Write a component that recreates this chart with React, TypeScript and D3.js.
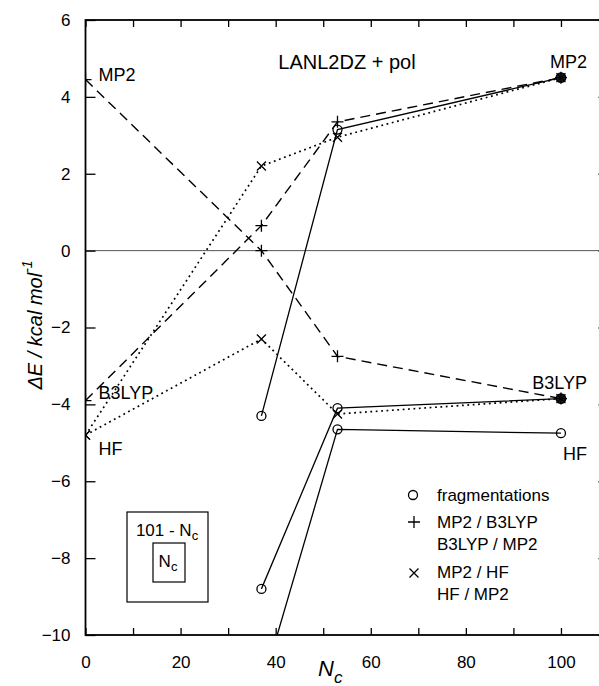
import React, { useEffect, useRef } from "react";
import * as d3 from "d3";

// N_c values and Delta E (kcal/mol)
// solid lines, open circles: fragmentations
const fragMp2 = [
  [37, -4.3],
  [53, 3.15],
  [100, 4.5],
];
const fragB3lyp = [
  [37, -8.8],
  [53, -4.1],
  [100, -3.85],
];
const fragHf = [
  [37, -11.4],
  [53, -4.65],
  [100, -4.75],
];
// dashed lines, plus markers
const mp2B3lyp = [
  [0, 4.45],
  [37, 0],
  [53, -2.75],
  [100, -3.85],
];
const b3lypMp2 = [
  [0, -3.9],
  [37, 0.65],
  [53, 3.35],
  [100, 4.5],
];
// dotted lines, cross markers
const mp2Hf = [
  [0, -4.8],
  [37, 2.2],
  [53, 2.95],
  [100, 4.5],
];
const hfMp2 = [
  [0, -4.8],
  [37, -2.3],
  [53, -4.25],
  [100, -3.85],
];

const xTicks = [0, 10, 20, 30, 40, 50, 60, 70, 80, 90, 100];
const yTicks = [-10, -8, -6, -4, -2, 0, 2, 4, 6];

const leftLabels = [
  { text: "MP2", n: 0, v: 4.45 },
  { text: "B3LYP", n: 0, v: -3.9 },
  { text: "HF", n: 0, v: -4.8 },
];
const rightLabels = [
  { text: "MP2", n: 100, v: 4.5 },
  { text: "B3LYP", n: 100, v: -3.85 },
  { text: "HF", n: 100, v: -4.75 },
];

const W = 599;
const H = 686;
const margin = { left: 85.5, top: 20, right: 608.5, bottom: 635 };
const font = "'Liberation Sans', Arial, sans-serif";

export default function App() {
  const svgRef = useRef<SVGSVGElement>(null);

  const x = d3.scaleLinear().domain([0, 110]).range([margin.left, margin.right]);
  const y = d3.scaleLinear().domain([-10, 6]).range([margin.bottom, margin.top]);

  useEffect(() => {
    const svg = d3.select(svgRef.current);

    // bottom axis with labels every 20
    svg
      .select<SVGGElement>(".x-axis")
      .attr("transform", `translate(0, ${margin.bottom})`)
      .call(
        d3
          .axisBottom(x)
          .tickValues(xTicks)
          .tickSize(-7)
          .tickPadding(21)
          .tickFormat((d) => (+d % 20 === 0 ? String(d) : ""))
      );
    svg
      .select<SVGGElement>(".x-top")
      .attr("transform", `translate(0, ${margin.top})`)
      .call(d3.axisTop(x).tickValues(xTicks).tickSize(-7).tickFormat(() => ""));
    svg
      .select<SVGGElement>(".y-axis")
      .attr("transform", `translate(${margin.left}, 0)`)
      .call(d3.axisLeft(y).tickValues(yTicks).tickSize(-10).tickPadding(15));
    svg
      .select<SVGGElement>(".y-right")
      .attr("transform", `translate(${margin.right}, 0)`)
      .call(d3.axisRight(y).tickValues(yTicks).tickSize(-10).tickFormat(() => ""));

    svg.selectAll(".domain").remove();
    svg
      .selectAll(".tick line")
      .attr("stroke", "#000")
      .attr("stroke-width", 1.3);
    svg
      .selectAll(".tick text")
      .attr("font-family", font)
      .attr("font-size", 17)
      .attr("fill", "#000");
  }, []);

  const line = d3
    .line<number[]>()
    .x((d) => x(d[0]))
    .y((d) => y(d[1]));

  const series = [
    { data: fragMp2, dash: "none", mark: "circle", w: 1.3 },
    { data: fragB3lyp, dash: "none", mark: "circle", w: 1.3 },
    { data: fragHf, dash: "none", mark: "circle", w: 1.3 },
    { data: mp2B3lyp, dash: "10,6", mark: "plus", w: 1.4 },
    { data: b3lypMp2, dash: "10,6", mark: "plus", w: 1.4 },
    { data: mp2Hf, dash: "1.8,3.6", mark: "cross", w: 1.7 },
    { data: hfMp2, dash: "1.8,3.6", mark: "cross", w: 1.7 },
  ];

  // circle endpoints where every method overlaps look filled
  const mixed = [mp2B3lyp, b3lypMp2, mp2Hf, hfMp2];
  const overlaps = (p: number[]) =>
    mixed.some((s) => s.some((q) => q[0] === p[0] && q[1] === p[1]));

  const marker = (kind: string, cx: number, cy: number, key: string, filled = false) => {
    if (kind === "circle")
      return (
        <circle
          key={key}
          cx={cx}
          cy={cy}
          r={filled ? 4.8 : 4.5}
          fill={filled ? "#222" : "none"}
          stroke="#000"
          strokeWidth={1.3}
        />
      );
    if (kind === "plus")
      return (
        <path
          key={key}
          d={`M${cx - 6},${cy}H${cx + 6}M${cx},${cy - 6}V${cy + 6}`}
          stroke="#000"
          strokeWidth={1.3}
        />
      );
    return (
      <path
        key={key}
        d={`M${cx - 4.5},${cy - 4.5}L${cx + 4.5},${cy + 4.5}M${cx - 4.5},${cy + 4.5}L${cx + 4.5},${cy - 4.5}`}
        stroke="#000"
        strokeWidth={1.3}
      />
    );
  };

  return (
    <svg
      ref={svgRef}
      width={W}
      height={H}
      style={{ position: "absolute", left: 0, top: 0, background: "#fff" }}
    >
      <defs>
        <clipPath id="plot">
          <rect
            x={margin.left}
            y={margin.top}
            width={margin.right - margin.left}
            height={margin.bottom - margin.top}
          />
        </clipPath>
      </defs>
      <rect width={W} height={H} fill="#fff" />

      {/* zero line */}
      <line
        x1={x(0)}
        x2={x(110)}
        y1={y(0)}
        y2={y(0)}
        stroke="#555"
        strokeWidth={1}
      />

      <g clipPath="url(#plot)">
        {series.map((s, i) => (
          <path
            key={"l" + i}
            d={line(s.data) || ""}
            fill="none"
            stroke="#000"
            strokeWidth={s.w}
            strokeDasharray={s.dash}
          />
        ))}
        {series.map((s, i) =>
          s.data.map((p, j) =>
            marker(
              s.mark,
              x(p[0]),
              y(p[1]),
              `m${i}-${j}`,
              s.mark === "circle" && overlaps(p)
            )
          )
        )}
      </g>

      {/* frame */}
      <rect
        x={margin.left}
        y={margin.top}
        width={margin.right - margin.left}
        height={margin.bottom - margin.top}
        fill="none"
        stroke="#000"
        strokeWidth={1.8}
      />
      <g className="x-axis" />
      <g className="x-top" />
      <g className="y-axis" />
      <g className="y-right" />

      <g fontFamily={font} fontSize={18} fill="#000">
        <text x={x(55)} y={69} textAnchor="middle" fontSize={20}>
          LANL2DZ + pol
        </text>
        {leftLabels.map((l, i) => (
          <text
            key={"ll" + i}
            x={x(l.n) + 13}
            y={y(l.v) + (l.text === "HF" ? 20 : l.text === "MP2" ? 1 : -2)}
          >
            {l.text}
          </text>
        ))}
        {rightLabels.map((l, i) => (
          <text
            key={"rl" + i}
            x={x(l.n) + 26}
            y={y(l.v) + (l.text === "HF" ? 27 : -10)}
            textAnchor="end"
          >
            {l.text}
          </text>
        ))}

        {/* legend */}
        <g fontSize={17}>
          {marker("circle", 413, 495, "lg0")}
          <text x={437} y={501}>fragmentations</text>
          {marker("plus", 414, 522, "lg1")}
          <text x={437} y={528}>MP2 / B3LYP</text>
          <text x={437} y={550}>B3LYP / MP2</text>
          {marker("cross", 414, 573, "lg2")}
          <text x={437} y={578}>MP2 / HF</text>
          <text x={437} y={600}>HF / MP2</text>
        </g>

        {/* inset sketch */}
        <rect x={127} y={512} width={81} height={90} fill="none" stroke="#000" strokeWidth={1.2} />
        <rect x={153} y={543} width={32} height={39} fill="none" stroke="#000" strokeWidth={1.2} />
        <text x={167} y={536} textAnchor="middle" fontSize={17}>
          101 - N<tspan fontSize={13} dy={4}>c</tspan>
        </text>
        <text x={168} y={567} textAnchor="middle" fontSize={17}>
          N<tspan fontSize={13} dy={4}>c</tspan>
        </text>

        {/* axis titles */}
        <text x={318} y={676} fontSize={22} fontStyle="italic">
          N<tspan fontSize={17} dy={7}>c</tspan>
        </text>
        <text
          transform={`translate(42, ${325}) rotate(-90)`}
          textAnchor="middle"
          fontSize={20}
          fontStyle="italic"
        >
          ΔE / kcal mol<tspan fontSize={14} dy={-10}>-1</tspan>
        </text>
      </g>
    </svg>
  );
}
